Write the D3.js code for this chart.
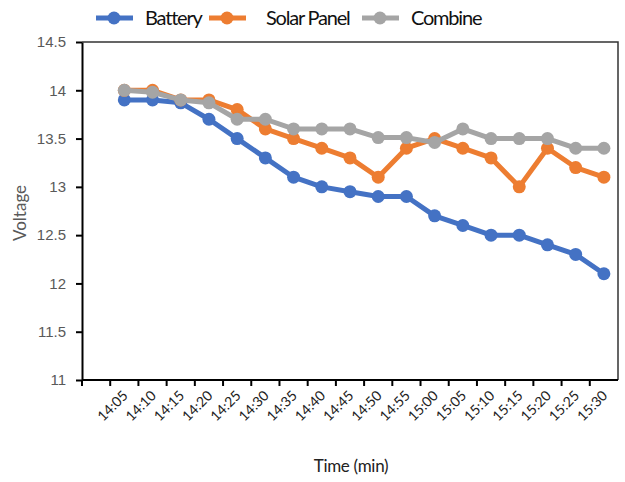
<!DOCTYPE html>
<html>
<head>
<meta charset="utf-8">
<script src="https://cdn.jsdelivr.net/npm/d3@7"></script>
<style>
  body { margin: 0; background: #fff; }
  svg { font-family: Lato, "Liberation Sans", sans-serif; }
</style>
</head>
<body>
<div id="chart"></div>
<script>
// Categories (first slot is left empty in the original chart)
const times = ['', '14:05', '14:10', '14:15', '14:20', '14:25', '14:30', '14:35', '14:40', '14:45',
  '14:50', '14:55', '15:00', '15:05', '15:10', '15:15', '15:20', '15:25', '15:30']

const battery = [13.9, 13.9, 13.87, 13.7, 13.5, 13.3, 13.1, 13.0, 12.95, 12.9, 12.9, 12.7, 12.6, 12.5, 12.5, 12.4, 12.3, 12.1]
const solar = [14.0, 14.0, 13.9, 13.9, 13.8, 13.6, 13.5, 13.4, 13.3, 13.1, 13.4, 13.5, 13.4, 13.3, 13.0, 13.4, 13.2, 13.1]
const combine = [14.0, 13.98, 13.9, 13.87, 13.7, 13.7, 13.6, 13.6, 13.6, 13.51, 13.51, 13.46, 13.6, 13.5, 13.5, 13.5, 13.4, 13.4]

const yTicks = [11, 11.5, 12, 12.5, 13, 13.5, 14, 14.5]

const series = [
  { name: 'Battery', values: battery, color: '#4472C4' },
  { name: 'Solar Panel', values: solar, color: '#ED7D31' },
  { name: 'Combine', values: combine, color: '#A5A5A5' }
]

const width = 625
const height = 482
const margin = { top: 42, right: 7, bottom: 102, left: 82 }

const svg = d3.select('#chart').append('svg')
  .attr('width', width)
  .attr('height', height)

const x = d3.scaleBand()
  .domain(times)
  .range([margin.left, width - margin.right])

const y = d3.scaleLinear()
  .domain([11, 14.5])
  .range([height - margin.bottom, margin.top])

// Frame: top and right edges
svg.append('path')
  .attr('d', `M${margin.left},${margin.top}H${width - margin.right}V${height - margin.bottom}`)
  .attr('fill', 'none')
  .attr('stroke', '#333')
  .attr('stroke-width', 1.5)

// Y axis
const yAxis = svg.append('g')
  .attr('transform', `translate(${margin.left},0)`)
  .call(d3.axisLeft(y).tickValues(yTicks).tickSize(6).tickSizeOuter(0).tickFormat(d3.format('')))
yAxis.select('.domain').attr('stroke', '#000').attr('stroke-width', 2)
yAxis.selectAll('.tick line').attr('stroke', '#000').attr('stroke-width', 2)
yAxis.selectAll('.tick text')
  .attr('x', -16)
  .attr('fill', '#595959')
  .style('font-size', '15px')

// X axis with ticks on band boundaries
const xAxis = svg.append('g')
  .attr('transform', `translate(0,${height - margin.bottom})`)
xAxis.append('line')
  .attr('x1', margin.left)
  .attr('x2', width - margin.right)
  .attr('stroke', '#000')
  .attr('stroke-width', 2)
xAxis.selectAll('.xtick')
  .data(times)
  .join('line')
  .attr('class', 'xtick')
  .attr('x1', d => x(d))
  .attr('x2', d => x(d))
  .attr('y1', 0)
  .attr('y2', 6)
  .attr('stroke', '#000')
  .attr('stroke-width', 2)
xAxis.selectAll('.xlabel')
  .data(times.filter(d => d !== ''))
  .join('text')
  .attr('class', 'xlabel')
  .attr('transform', d => `translate(${x(d) + x.bandwidth() / 2 + 1},${13}) rotate(-45)`)
  .attr('text-anchor', 'end')
  .attr('dy', '0.35em')
  .style('font-size', '14px')
  .attr('fill', '#222')
  .text(d => d)

// Axis titles
svg.append('text')
  .attr('x', (margin.left + width - margin.right) / 2 + 1)
  .attr('y', 472)
  .attr('text-anchor', 'middle')
  .style('font-size', '17px')
  .style('letter-spacing', '-0.3px')
  .attr('fill', '#222')
  .text('Time (min)')

svg.append('text')
  .attr('transform', `translate(26,${(margin.top + height - margin.bottom) / 2 + 2}) rotate(-90)`)
  .attr('text-anchor', 'middle')
  .style('font-size', '17px')
  .attr('fill', '#595959')
  .text('Voltage')

// Lines and markers
const pointX = (d, i) => x(times[i + 1]) + x.bandwidth() / 2
const line = d3.line()
  .x(pointX)
  .y(d => y(d))

const groups = svg.selectAll('.series')
  .data(series)
  .join('g')
  .attr('class', 'series')

groups.append('path')
  .attr('d', d => line(d.values))
  .attr('fill', 'none')
  .attr('stroke', d => d.color)
  .attr('stroke-width', 5)
  .attr('stroke-linejoin', 'round')

groups.each(function (s) {
  d3.select(this).selectAll('circle')
    .data(s.values)
    .join('circle')
    .attr('cx', pointX)
    .attr('cy', d => y(d))
    .attr('r', 6.5)
    .attr('fill', s.color)
})

// Legend
const legendX = [96, 209, 362]
const legendTextX = [145, 266, 411]
const legend = svg.selectAll('.legend')
  .data(series)
  .join('g')
  .attr('class', 'legend')
legend.append('line')
  .attr('x1', (d, i) => legendX[i])
  .attr('x2', (d, i) => legendX[i] + 37)
  .attr('y1', 18)
  .attr('y2', 18)
  .attr('stroke', d => d.color)
  .attr('stroke-width', 5)
legend.append('circle')
  .attr('cx', (d, i) => legendX[i] + 18)
  .attr('cy', 18)
  .attr('r', 6.5)
  .attr('fill', d => d.color)
legend.append('text')
  .attr('x', (d, i) => legendTextX[i])
  .attr('y', 18)
  .attr('dy', '0.35em')
  .style('font-size', '20px')
  .style('letter-spacing', '-1.2px')
  .attr('fill', '#111')
  .text(d => d.name)
</script>
</body>
</html>
